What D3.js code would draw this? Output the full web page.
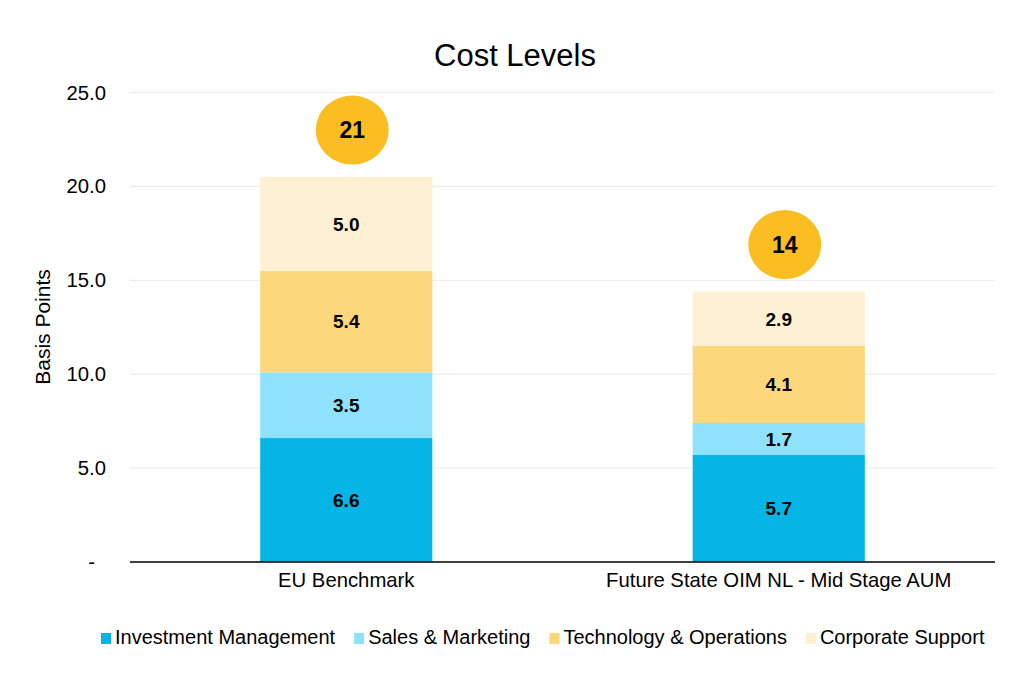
<!DOCTYPE html>
<html><head><meta charset="utf-8">
<script src="https://cdn.jsdelivr.net/npm/d3@7"></script>
<style>body{margin:0;background:#fff}svg{display:block}text{font-family:"Liberation Sans",Arial,sans-serif}</style>
</head><body><svg id="c" width="1024" height="695"></svg>
<script>
const categories = ["EU Benchmark", "Future State OIM NL - Mid Stage AUM"];
const seriesNames = ["Investment Management", "Sales & Marketing", "Technology & Operations", "Corporate Support"];
const investmentManagement = [6.6, 5.7];
const salesMarketing = [3.5, 1.7];
const technologyOperations = [5.4, 4.1];
const corporateSupport = [5.0, 2.9];
const totals = [21, 14];
const yTicks = [0, 5, 10, 15, 20, 25];
const colors = ["#05B5E6", "#8FE2FC", "#FCD77B", "#FEF0D2"];

const seriesValues = [investmentManagement, salesMarketing, technologyOperations, corporateSupport];
const rows = categories.map((c, i) => {
  const r = {cat: c};
  seriesNames.forEach((s, j) => r[s] = seriesValues[j][i]);
  return r;
});
const stack = d3.stack().keys(seriesNames)(rows);

const svg = d3.select("#c");
const L = 130, R = 995, T = 92.5, B = 562;
const x = d3.scaleBand().domain(categories).range([L, R]).padding(0);
const y = d3.scaleLinear().domain([0, 25]).range([B, T]);
const barW = x.bandwidth() * 0.398;

// gridlines
svg.append("g").selectAll("line").data(yTicks.filter(d => d > 0)).join("line")
  .attr("x1", L).attr("x2", R).attr("y1", d => y(d)).attr("y2", d => y(d))
  .attr("stroke", "#EDEDED").attr("stroke-width", 1.2);

// y axis
const yAxis = d3.axisLeft(y).tickValues(yTicks).tickSize(0).tickPadding(24)
  .tickFormat(d => d === 0 ? "-" : d3.format(".1f")(d));
const ya = svg.append("g").attr("transform", `translate(${L},0)`).call(yAxis);
ya.select(".domain").remove();
ya.selectAll("text").attr("font-size", 20.3).attr("fill", "#000")
  .attr("font-family", "Liberation Sans, Arial, sans-serif")
  .attr("dx", d => d === 0 ? -11 : 0);

// bars
const g = svg.append("g");
stack.forEach((layer, j) => {
  g.selectAll(null).data(layer).join("rect")
    .attr("x", d => x(d.data.cat) + x.bandwidth() / 2 - barW / 2)
    .attr("width", barW)
    .attr("y", d => y(d[1]))
    .attr("height", d => y(d[0]) - y(d[1]))
    .attr("fill", colors[j]);
  g.selectAll(null).data(layer).join("text")
    .attr("x", d => x(d.data.cat) + x.bandwidth() / 2)
    .attr("y", d => y((d[0] + d[1]) / 2))
    .attr("dy", "0.36em")
    .attr("text-anchor", "middle")
    .attr("font-size", 19).attr("font-weight", "bold")
    .text(d => d3.format(".1f")(d[1] - d[0]));
});

// x axis line
svg.append("line").attr("x1", L).attr("x2", R).attr("y1", B).attr("y2", B)
  .attr("stroke", "#000").attr("stroke-width", 1.3);

// x labels
const xAxis = d3.axisBottom(x).tickSize(0).tickPadding(25);
const xa = svg.append("g").attr("transform", `translate(0,${B})`).call(xAxis);
xa.select(".domain").remove();
xa.selectAll("text").attr("font-size", 20.3).attr("fill", "#000")
  .attr("font-family", "Liberation Sans, Arial, sans-serif").attr("dy", "0em");

// total bubbles
const bub = svg.append("g").selectAll("g").data(categories).join("g")
  .attr("transform", (c, i) => `translate(${x(c) + x.bandwidth() / 2 + 6},${y(d3.sum(seriesValues, s => s[i])) - 47})`);
bub.append("ellipse").attr("rx", 36.5).attr("ry", 34.5).attr("fill", "#FBBE22");
bub.append("text").attr("text-anchor", "middle").attr("dy", "0.36em")
  .attr("font-size", 23).attr("font-weight", "bold").text((c, i) => totals[i]);

// title
svg.append("text").attr("x", 515).attr("y", 66).attr("text-anchor", "middle")
  .attr("font-size", 31).text("Cost Levels");

// y label
svg.append("text").attr("transform", "translate(50,327) rotate(-90)")
  .attr("text-anchor", "middle").attr("font-size", 21).text("Basis Points");

// legend
const leg = svg.append("g");
let lx = 101;
seriesNames.forEach((s, j) => {
  leg.append("rect").attr("x", lx).attr("y", 633).attr("width", 10).attr("height", 11).attr("fill", colors[j]);
  const t = leg.append("text").attr("x", lx + 14).attr("y", 644).attr("font-size", 20).text(s);
  lx += 14 + t.node().getComputedTextLength() + 19;
});
</script></body></html>
